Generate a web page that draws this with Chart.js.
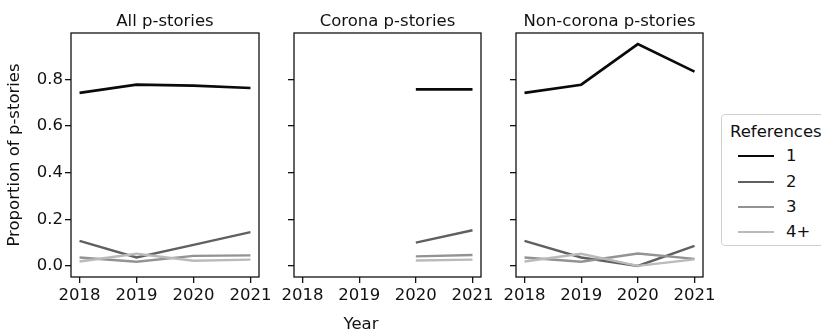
<!DOCTYPE html>
<html>
<head>
<meta charset="utf-8">
<script src="https://cdn.jsdelivr.net/npm/chart.js@4"></script>
<style>
  html, body { margin: 0; padding: 0; background: #fff; }
  #fig { position: relative; width: 821px; height: 332px; overflow: hidden;
         font-family: 'DejaVu Sans', sans-serif; color: #111; }
  #fig canvas { position: absolute; top: 0; }
  #xlabel { position: absolute; left: 311px; width: 100px; top: 314px; text-align: center;
            font-size: 16.5px; line-height: 20px; }
  #legend { position: absolute; left: 721px; top: 114px; width: 110px; height: 132px;
            border: 1px solid #d0d0d0; border-radius: 4px; box-sizing: border-box; background: #fff; }
  #legend .lt { position: absolute; left: 8px; top: 7px; font-size: 16.5px; line-height: 20px; white-space: nowrap; }
  #legend .item { position: absolute; left: 16px; height: 20px; width: 90px; }
  #legend .sw { position: absolute; left: 0; top: 9px; width: 36px; height: 0; }
  #legend .lb { position: absolute; left: 48px; top: 0; font-size: 16.5px; line-height: 20px; }
</style>
</head>
<body>
<div id="fig">
  <canvas id="c0"></canvas>
  <canvas id="c1"></canvas>
  <canvas id="c2"></canvas>
  <div id="xlabel">Year</div>
  <div id="legend"><div class="lt">References</div></div>
</div>
<script>
// Share of p-stories by number of references, per year
const years = [2018, 2019, 2020, 2021];
const refLabels = ['1', '2', '3', '4+'];
const refColors = ['#0a0a0a', '#606060', '#939393', '#bababa'];
const panelTitles = ['All p-stories', 'Corona p-stories', 'Non-corona p-stories'];
const yTicks = [0, 0.2, 0.4, 0.6, 0.8];

const allRef1 = [0.742, 0.777, 0.773, 0.763];
const allRef2 = [0.107, 0.036, 0.090, 0.145];
const allRef3 = [0.036, 0.018, 0.043, 0.045];
const allRef4 = [0.019, 0.052, 0.022, 0.027];

const coronaRef1 = [null, null, 0.757, 0.757];
const coronaRef2 = [null, null, 0.100, 0.153];
const coronaRef3 = [null, null, 0.041, 0.047];
const coronaRef4 = [null, null, 0.023, 0.027];

const nonCoronaRef1 = [0.742, 0.777, 0.951, 0.833];
const nonCoronaRef2 = [0.107, 0.036, 0.000, 0.086];
const nonCoronaRef3 = [0.036, 0.018, 0.053, 0.030];
const nonCoronaRef4 = [0.019, 0.052, 0.000, 0.028];

const panelSeries = [
  [allRef1, allRef2, allRef3, allRef4],
  [coronaRef1, coronaRef2, coronaRef3, coronaRef4],
  [nonCoronaRef1, nonCoronaRef2, nonCoronaRef3, nonCoronaRef4]
];

// layout of the three axes boxes (pixels)
const FIG_H = 332;
const AX_TOP = 33, AX_BOTTOM = 277;
const axesBoxes = [
  { left: 71, right: 259, yw: 71, lpad: 0 },
  { left: 294, right: 481, yw: 8, lpad: 30 },
  { left: 516, right: 703, yw: 8, lpad: 30 }
];
const RIGHT_PAD = 30;
const INK = '#111';
const FONT = { family: "'DejaVu Sans', sans-serif", size: 16.5 };
const TITLE_LH = 1.2;
const TITLE_TOP = 12;

// matplotlib-style margins: 5% of the data span on each side
const allVals = panelSeries.flat(2).filter(v => v !== null);
const yLo = Math.min(...allVals), yHi = Math.max(...allVals);
const yPad = (yHi - yLo) * 0.05;
const xPad = (years[years.length - 1] - years[0]) * 0.05;

// full frame around the plotting area
const framePlugin = {
  id: 'frame',
  afterDraw(chart) {
    const { ctx, chartArea: a } = chart;
    ctx.save();
    ctx.strokeStyle = INK;
    ctx.lineWidth = 1.3;
    ctx.strokeRect(a.left, a.top, a.right - a.left, a.bottom - a.top);
    ctx.restore();
  }
};

axesBoxes.forEach((box, p) => {
  const canvas = document.getElementById('c' + p);
  const cx = box.left - box.yw - box.lpad;
  const cw = box.right + RIGHT_PAD - cx;
  canvas.style.left = cx + 'px';
  canvas.width = cw;
  canvas.height = FIG_H;
  canvas.style.width = cw + 'px';
  canvas.style.height = FIG_H + 'px';

  const datasets = panelSeries[p].map((vals, i) => ({
    label: refLabels[i],
    data: years.map((yr, k) => ({ x: yr, y: vals[k] })),
    borderColor: refColors[i],
    backgroundColor: refColors[i],
    borderWidth: i === 0 ? 2.6 : 2.4,
    pointRadius: 0,
    tension: 0,
    spanGaps: false,
    order: i === 0 ? 4 : 4 - i
  }));

  new Chart(canvas, {
    type: 'line',
    data: { datasets },
    plugins: [framePlugin],
    options: {
      responsive: false,
      animation: false,
      devicePixelRatio: 1,
      layout: { padding: { left: box.lpad, right: RIGHT_PAD, top: 0, bottom: 0 } },
      plugins: {
        legend: { display: false },
        tooltip: { enabled: false },
        title: {
          display: true,
          fullSize: false,
          text: panelTitles[p],
          color: INK,
          font: { ...FONT, weight: 'normal', lineHeight: TITLE_LH },
          padding: { top: TITLE_TOP, bottom: AX_TOP - TITLE_TOP - FONT.size * TITLE_LH }
        }
      },
      scales: {
        x: {
          type: 'linear',
          min: years[0] - xPad,
          max: years[years.length - 1] + xPad,
          afterBuildTicks: s => { s.ticks = years.map(v => ({ value: v })); },
          afterFit: s => { s.height = FIG_H - AX_BOTTOM; },
          ticks: {
            color: INK, font: FONT, padding: 3, maxRotation: 0, autoSkip: false,
            callback: v => String(v)
          },
          grid: { display: true, drawOnChartArea: false, drawTicks: true, tickLength: 6, color: INK, lineWidth: 1.3 },
          border: { display: false }
        },
        y: {
          type: 'linear',
          min: yLo - yPad,
          max: yHi + yPad,
          afterBuildTicks: s => { s.ticks = yTicks.map(v => ({ value: v })); },
          afterFit: s => { s.width = box.yw; },
          ticks: {
            display: p === 0, color: INK, font: FONT, padding: 2,
            callback: v => v.toFixed(1)
          },
          title: {
            display: p === 0,
            text: 'Proportion of p-stories',
            color: INK,
            font: { ...FONT, lineHeight: 1.2 },
            padding: { top: 5, bottom: 0 }
          },
          grid: { display: true, drawOnChartArea: false, drawTicks: true, tickLength: 6, color: INK, lineWidth: 1.3 },
          border: { display: false }
        }
      }
    }
  });
});

// legend entries
const legendEl = document.getElementById('legend');
const legendRowTops = [31, 57, 82, 107];
refLabels.forEach((lab, i) => {
  const item = document.createElement('div');
  item.className = 'item';
  item.style.top = legendRowTops[i] + 'px';
  const sw = document.createElement('div');
  sw.className = 'sw';
  sw.style.borderTop = (i === 0 ? 2.6 : 2.4) + 'px solid ' + refColors[i];
  const lb = document.createElement('div');
  lb.className = 'lb';
  lb.textContent = lab;
  item.appendChild(sw);
  item.appendChild(lb);
  legendEl.appendChild(item);
});
</script>
</body>
</html>
